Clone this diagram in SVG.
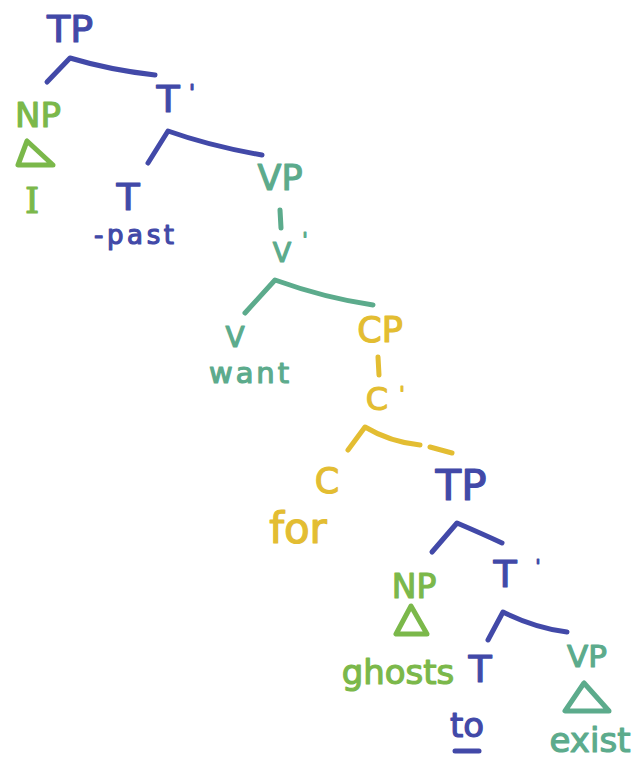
<svg xmlns="http://www.w3.org/2000/svg" width="634" height="759" viewBox="0 0 634 759">
<style>
text{font-family:"DejaVu Sans","Liberation Sans",sans-serif;text-anchor:middle;stroke-width:1.2;stroke-linejoin:round}
.b{fill:#4249a8;stroke:#4249a8}
.g{fill:#7bb84a;stroke:#7bb84a}
.t{fill:#5cab8c;stroke:#5cab8c}
.y{fill:#e3bd32;stroke:#e3bd32}
.serif{font-family:"DejaVu Serif","Liberation Serif",serif}
.l{fill:none;stroke-width:5;stroke-linecap:round;stroke-linejoin:round}
.lb{stroke:#4249a8}.lg{stroke:#7bb84a}.lt{stroke:#5cab8c}.ly{stroke:#e3bd32}
</style>
<rect width="634" height="759" fill="#ffffff"/>
<g id="connectors">
<path class="l lb" d="M47 82 L70 58 Q110 70 155 75"/>
<path class="l lb" d="M148 163 L168 131 Q210 146 262 155"/>
<path class="l lt" d="M280 210 L281 228"/>
<path class="l lt" d="M245 313 L275 280 Q325 298 373 305"/>
<path class="l ly" d="M378 357 L379 375"/>
<path class="l ly" d="M348 450 L365 427 Q390 442 420 445 M430 447 L452 453"/>
<path class="l lb" d="M432 552 L457 523 Q485 535 502 543"/>
<path class="l lb" d="M488 640 L503 612 Q535 628 567 632"/>
<path class="l lb" d="M455 751 L479 751"/>
</g>
<g id="TP"><text class="b" x="70" y="42" font-size="38">TP</text></g>
<g id="NP"><text class="g" x="38" y="127" font-size="34">NP</text>
<path class="l lg" d="M27 141 L18 165 L53 165 Z" stroke-width="4.5"/>
<text class="g serif" x="32" y="213" font-size="36">I</text></g>
<g id="Tbar"><text class="b" x="168" y="112" font-size="38">T</text><text class="b" x="192" y="100" font-size="22">'</text></g>
<g id="T"><text class="b" x="128" y="210" font-size="38">T</text>
<text class="b" x="134" y="244" font-size="26" textLength="80" lengthAdjust="spacing">-past</text></g>
<g id="VP"><text class="t" x="280" y="190" font-size="35">VP</text></g>
<g id="Vbar"><text class="t" x="282" y="262" font-size="27">V</text><text class="t" x="305" y="246" font-size="20">'</text></g>
<g id="V"><text class="t" x="235" y="347" font-size="28">V</text>
<text class="t" x="249" y="383" font-size="29" textLength="80" lengthAdjust="spacing">want</text></g>
<g id="CP"><text class="y" x="380" y="342" font-size="35">CP</text></g>
<g id="Cbar"><text class="y" x="377" y="410" font-size="32">C</text><text class="y" x="402" y="400" font-size="20">'</text></g>
<g id="C"><text class="y" x="327" y="493" font-size="35">C</text>
<text class="y" x="298" y="543" font-size="42">for</text></g>
<g id="TP2"><text class="b" x="461" y="500" font-size="42">TP</text></g>
<g id="NP2"><text class="g" x="414" y="598" font-size="33">NP</text>
<path class="l lg" d="M411 606 L396 634 L427 634 Z" stroke-width="4.5"/>
<text class="g" x="398" y="684" font-size="34">ghosts</text></g>
<g id="Tbar2"><text class="b" x="505" y="587" font-size="38">T</text><text class="b" x="538" y="572" font-size="18">'</text></g>
<g id="T2"><text class="b" x="480" y="682" font-size="38">T</text>
<text class="b" x="467" y="737" font-size="34">to</text></g>
<g id="VP2"><text class="t" x="587" y="667" font-size="31">VP</text>
<path class="l lt" d="M584 683 L565 711 L609 711 Z" stroke-width="4.5"/>
<text class="t" x="590" y="752" font-size="34">exist</text></g>
</svg>
